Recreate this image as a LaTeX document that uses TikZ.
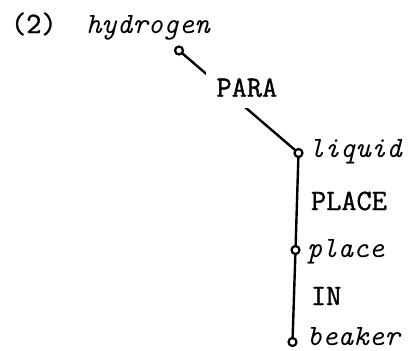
\documentclass[tikz,border=0pt]{standalone}
\usepackage{fontspec}
\setmonofont{Latin Modern Mono}[UprightFeatures={FakeBold=1.2}]
\begin{document}
\begin{tikzpicture}[x=1pt,y=-1pt,
  every node/.style={inner sep=0pt, outer sep=0pt},
  lbl/.style={anchor=base west, font=\fontsize{29.5}{31}\selectfont\ttfamily},
  term/.style={anchor=base west, font=\fontsize{29.5}{31}\selectfont\ttfamily\itshape},
  knot/.style={circle, draw, line width=2.2pt, minimum size=8pt, inner sep=0pt},
  link/.style={line width=2.4pt}]
\useasboundingbox (0,0) rectangle (416,351);

% example number and words
\node[lbl]  (num)  at (11,33)  {(2)};
\node[term] (hyd)  at (86,33)  {hydrogen};
\node[term] (liq)  at (309,157) {liquid};
\node[lbl]  (plc)  at (311,210) {PLACE};
\node[term] (plw)  at (307,257) {place};
\node[lbl]  (in)   at (311,305) {IN};
\node[term] (bea)  at (307,345) {beaker};

% attachment points of the words
\node[knot] (h) at (179,50.5) {};
\node[knot] (l) at (298.5,153) {};
\node[knot] (p) at (295.5,250) {};
\node[knot] (b) at (292.5,342) {};

% links between the words
\draw[link] (h) -- (l);
\draw[link] (l) -- (p);
\draw[link] (p) -- (b);

% relation label, blanking the link beneath it
\node[lbl, fill=white, inner sep=10.5pt] (para) at (206,96.7) {PARA};
\end{tikzpicture}
\end{document}
